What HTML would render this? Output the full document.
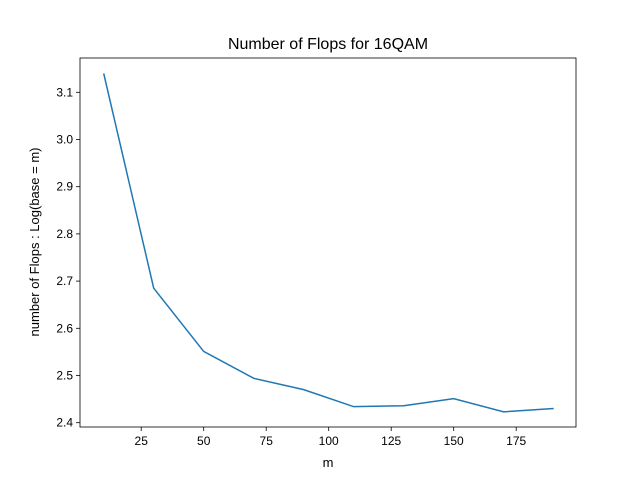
<!DOCTYPE html>
<html><head><meta charset="utf-8"><style>
body{margin:0;background:#fff;}
svg{display:block;font-family:"Liberation Sans","DejaVu Sans",sans-serif;}
</style></head><body>
<svg id="chart" width="640" height="480">
<rect width="640" height="480" fill="#fff"/>
<text x="328" y="49" text-anchor="middle" font-size="16">Number of Flops for 16QAM</text>
<g id="axes"></g>
<text x="328" y="467" text-anchor="middle" font-size="13">m</text>
<text transform="translate(39,242) rotate(-90)" text-anchor="middle" font-size="13">number of Flops : Log(base = m)</text>
</svg>
<script>
const xValues=[10,30,50,70,90,110,130,150,170,190];
const yValues=[3.140,2.685,2.551,2.494,2.470,2.434,2.436,2.451,2.423,2.430];
const xTicks=[25,50,75,100,125,150,175];
const yTicks=[2.4,2.5,2.6,2.7,2.8,2.9,3.0,3.1];
const yTickLabels=["2.4","2.5","2.6","2.7","2.8","2.9","3.0","3.1"];
const L=80,R=576,T=58,B=427;
function xs(v){return 203.7+(v-50)*2.5;}
function ys(v){return 422.7-(v-2.4)*472;}
const NS="http://www.w3.org/2000/svg";
const g=document.getElementById('axes');
function mk(t,a){const e=document.createElementNS(NS,t);for(const k in a)e.setAttribute(k,a[k]);g.appendChild(e);return e;}
xTicks.forEach(v=>{
 const l=mk('line',{x1:xs(v),x2:xs(v),y1:B,y2:B+4,stroke:'#000','stroke-width':0.8});
 
 
 const t=mk('text',{x:xs(v),y:B+18,'text-anchor':'middle','font-size':12});
 t.textContent=v;
 
 
});
yTicks.forEach((v,i)=>{
 const l=mk('line',{x1:L-4,x2:L,y1:ys(v),y2:ys(v),stroke:'#000','stroke-width':0.8});
 
 
 const t=mk('text',{x:L-7,y:ys(v)+4,'text-anchor':'end','font-size':12});
 t.textContent=yTickLabels[i];
 
 
});
const p=mk('polyline',{points:xValues.map((x,i)=>xs(x)+','+ys(yValues[i])).join(' '),fill:'none',stroke:'#1f77b4','stroke-width':1.5});


const f=mk('rect',{x:L,y:T,width:R-L,height:B-T,fill:'none',stroke:'#000','stroke-width':0.8});


</script>
</body></html>
